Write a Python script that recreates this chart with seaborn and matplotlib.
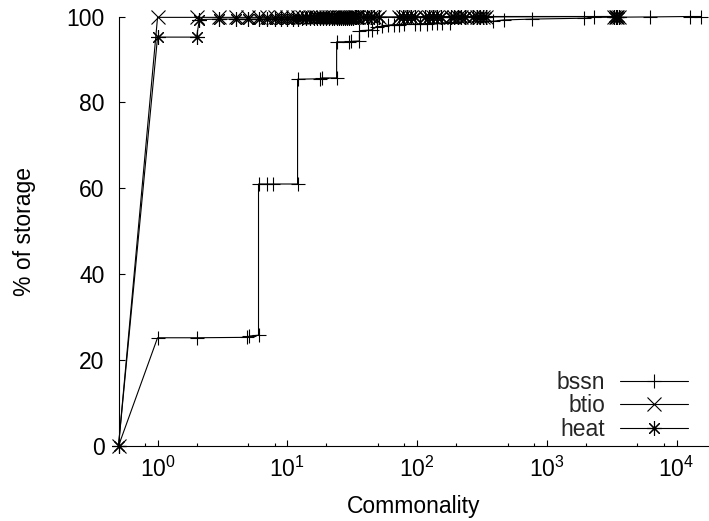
import matplotlib
matplotlib.use('Agg')
import matplotlib.pyplot as plt
import seaborn as sns
from matplotlib.ticker import LogLocator, NullFormatter

# commonality (x) vs cumulative % of storage (y)
bssn_x = [0.5, 1, 2, 4.9, 5.1, 6, 6, 7, 7.8, 12, 12, 17.8, 18.5, 24, 24, 30, 31, 36, 36,
          42, 44.6, 49, 53.5, 60, 66, 72, 79, 96, 106, 119, 130, 142, 155, 179,
          387, 466, 776, 1920, 2330, 6200, 12600, 15400]
bssn_y = [0, 25.2, 25.2, 25.3, 25.6, 25.8, 61.0, 61.0, 61.0, 61.0, 85.4, 85.5, 85.7, 85.7, 94.1, 94.1, 94.2, 94.3, 96.7,
          96.8, 96.9, 97.6, 97.7, 98.0, 98.1, 98.1, 98.2, 98.2, 98.3, 98.3, 98.4, 98.4, 98.5, 98.6,
          98.9, 99.2, 99.4, 99.6, 99.8, 99.9, 100, 100]

btio_x = [0.5, 1, 2, 3, 4, 5, 6, 7, 8, 9, 10, 11, 12, 13, 14, 15, 16, 17, 18, 19, 20,
          21, 22, 23, 24, 25, 26, 27, 28, 29, 30, 31, 32, 33, 34, 35,
          38, 41, 44, 47, 51, 72, 78, 84, 90, 97, 115, 124, 133, 142, 152,
          182, 194, 206, 220, 235, 270, 288, 305, 322, 340, 3300, 3400, 3500, 3600]
btio_y = [0, 99.8, 99.8, 99.8, 99.8, 99.8, 99.8, 99.8, 99.8, 99.8, 99.8, 99.8, 99.8, 99.8, 99.8, 99.8, 99.9, 99.9, 99.9, 99.9, 99.9,
          99.9, 99.9, 99.9, 99.9, 99.9, 99.9, 99.9, 99.9, 99.9, 99.9, 99.9, 99.9, 99.9, 99.9, 99.9,
          99.9, 99.9, 99.9, 99.9, 99.9, 99.9, 99.9, 99.9, 99.9, 99.9, 100, 100, 100, 100, 100,
          100, 100, 100, 100, 100, 100, 100, 100, 100, 100, 100, 100, 100, 100]

heat_x = [0.5, 1, 2, 2.1, 3, 4, 5, 6, 7, 8, 9, 10, 11, 12, 13, 14, 15, 16, 17, 18, 19, 20,
          21, 22, 23, 24, 25, 26, 27, 28, 29, 30, 31, 32, 33, 34, 35,
          38, 41, 44, 47, 51, 72, 78, 84, 90, 97, 115, 124, 133, 142, 152,
          182, 194, 206, 220, 235, 270, 288, 305, 322, 340, 3300, 3400, 3500, 3600]
heat_y = [0, 95.2, 95.2, 99.3, 99.4, 99.4, 99.4, 99.4, 99.5, 99.5, 99.5, 99.5, 99.5, 99.5, 99.6, 99.6, 99.6, 99.6, 99.6, 99.6, 99.6, 99.6,
          99.7, 99.7, 99.7, 99.7, 99.7, 99.7, 99.7, 99.7, 99.7, 99.7, 99.7, 99.7, 99.8, 99.8, 99.8,
          99.8, 99.8, 99.8, 99.8, 99.8, 99.8, 99.8, 99.8, 99.8, 99.8, 99.9, 99.9, 99.9, 99.9, 99.9,
          99.9, 99.9, 99.9, 99.9, 99.9, 99.9, 99.9, 99.9, 99.9, 99.9, 100, 100, 100, 100]

series = [('bssn', bssn_x, bssn_y, '+'),
          ('btio', btio_x, btio_y, 'x'),
          ('heat', heat_x, heat_y, (8, 2, 0))]

sns.set_theme(style='ticks')
plt.rcParams['font.family'] = ['Liberation Sans', 'DejaVu Sans']
plt.rcParams['mathtext.fontset'] = 'custom'
plt.rcParams['mathtext.rm'] = 'Liberation Sans'
plt.rcParams['mathtext.it'] = 'Liberation Sans:italic'
plt.rcParams['mathtext.bf'] = 'Liberation Sans:bold'

fig = plt.figure(figsize=(7.09, 5.21), dpi=100)
ax = fig.add_axes([118.5 / 709, 75 / 521, 1 - 118.5 / 709, 429.5 / 521])

for name, xs, ys, mk in series:
    sns.lineplot(x=xs, y=ys, ax=ax, estimator=None, sort=False, color='black',
                 lw=0.8, marker=mk, markersize=10.5, markeredgecolor='black',
                 markeredgewidth=0.8, label=name, clip_on=False)

ax.set_xscale('log')
ax.set_xlim(0.5, 17800)
ax.set_ylim(0, 100)
ax.xaxis.set_major_locator(LogLocator(base=10, numticks=10))
ax.xaxis.set_minor_locator(LogLocator(base=10, subs=[2, 5, 8], numticks=20))
ax.xaxis.set_minor_formatter(NullFormatter())
ax.set_yticks([0, 20, 40, 60, 80, 100])

ax.tick_params(which='both', direction='in', color='black', width=0.8, labelsize=16.5, labelcolor='black')
ax.tick_params(which='major', length=4.5)
ax.tick_params(which='minor', length=2)
ax.tick_params(axis='y', pad=10)
ax.tick_params(axis='x', pad=7.5)

for side in ['top', 'right']:
    ax.spines[side].set_visible(False)
for side in ['left', 'bottom']:
    ax.spines[side].set_color('black')
    ax.spines[side].set_linewidth(0.8)

ax.set_xlabel('Commonality', fontsize=16.5, color='black')
ax.set_ylabel('% of storage', fontsize=16.5, color='black')
ax.xaxis.set_label_coords(0.5, -0.115)
ax.yaxis.set_label_coords(-0.14, 0.5)

ax.legend(loc='lower right', bbox_to_anchor=(0.9644, 0.012), frameon=False, markerfirst=False,
          handlelength=2.95, handletextpad=0.66, labelspacing=0.02, borderpad=0, borderaxespad=0,
          fontsize=16.5)

fig.savefig('out.png', dpi=100)
